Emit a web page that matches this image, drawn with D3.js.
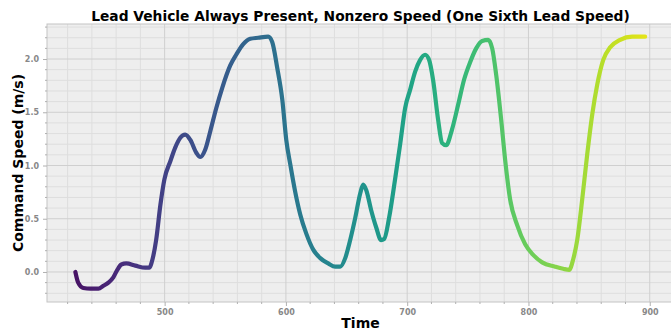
<!DOCTYPE html>
<html>
<head>
<meta charset="utf-8">
<script src="https://cdn.jsdelivr.net/npm/d3@7"></script>
<style>
  body { margin: 0; background: #fff; }
  svg { display: block; font-family: "DejaVu Sans", sans-serif; }
</style>
</head>
<body>
<svg id="chart" width="671" height="330"></svg>
<script>
// time samples and command speed
const time = [426.4, 428.7, 433, 438.8, 445.4, 449.5, 453.6, 457.7, 461, 464.3, 468.4, 475.8, 484, 487.3,
  490, 493, 496.5, 499.8, 504.7, 508.8, 512.9, 517, 521.2, 526.1, 529.4, 533.5, 537.6, 542.6, 547.5,
  554.1, 559, 564.8, 570.6, 577.2, 585.4, 588.7, 592.8, 597, 600.3, 603.6, 607.7, 611.8, 616.8, 622.5,
  628.3, 634.9, 640.7, 644.8, 648.9, 653, 657.2, 661.3, 663.7, 666.2, 670.3, 674.4, 678.5, 681, 685.1,
  690, 694.2, 698.3, 702.4, 706.5, 710.6, 714.8, 718.1, 721.4, 725.5, 728.8, 732.1, 737, 742, 747,
  751.9, 756.9, 761.8, 766.8, 770.1, 773.4, 777.5, 780.8, 784.9, 790.7, 797.3, 803.9, 811.3, 822,
  828.6, 833.6, 836.9, 840.2, 844.3, 848.4, 852.6, 856.7, 861.6, 867.4, 875.6, 885.5, 896.2];
const speed = [0.0, -0.10, -0.15, -0.157, -0.157, -0.13, -0.10, -0.05, 0.02, 0.07, 0.08, 0.06, 0.04, 0.04,
  0.12, 0.30, 0.63, 0.87, 1.04, 1.17, 1.26, 1.29, 1.24, 1.12, 1.08, 1.15, 1.32, 1.54, 1.73,
  1.94, 2.04, 2.14, 2.19, 2.20, 2.21, 2.16, 1.92, 1.62, 1.24, 1.01, 0.75, 0.54, 0.36, 0.21,
  0.13, 0.08, 0.05, 0.05, 0.13, 0.30, 0.51, 0.74, 0.82, 0.77, 0.58, 0.42, 0.30, 0.31, 0.51,
  0.87, 1.20, 1.54, 1.71, 1.88, 1.99, 2.04, 1.99, 1.80, 1.43, 1.21, 1.19, 1.34, 1.57, 1.81,
  1.97, 2.10, 2.17, 2.18, 2.10, 1.85, 1.43, 1.05, 0.68, 0.44, 0.26, 0.16, 0.09, 0.05,
  0.03, 0.02, 0.12, 0.30, 0.68, 1.10, 1.48, 1.76, 1.99, 2.11, 2.18, 2.21, 2.21];

const xTicks = [500, 600, 700, 800, 900];
const yTicks = [0.0, 0.5, 1.0, 1.5, 2.0];

const title  = 'Lead Vehicle Always Present, Nonzero Speed (One Sixth Lead Speed)';
const xTitle = 'Time';
const yTitle = 'Command Speed (m/s)';

const margin = { l: 47, t: 24, r: -3, b: 28 };
const width  = 671;
const height = 330;

const svg = d3.select('#chart');

const xScale = d3.scaleLinear().domain([403, 920]).range([margin.l, width - margin.r]);
const yScale = d3.scaleLinear().domain([-0.282, 2.329]).range([height - margin.b, margin.t]);

const l = xScale.range()[0], r = xScale.range()[1];
const t = yScale.range()[1], b = yScale.range()[0];

// panel
svg.append('rect')
    .attr('x', l).attr('y', t)
    .attr('width', r - l).attr('height', b - t)
    .attr('fill', '#eeeeee');

// grid: minor then major
const grid = svg.append('g');
const xMinor = d3.range(420, 920, 20).filter(v => v % 100 !== 0);
const yMinor = d3.range(-2, 24).map(v => v / 10).filter(v => Math.abs(v * 2 - Math.round(v * 2)) > 1e-6);

grid.selectAll('.xm').data(xMinor).join('line')
    .attr('x1', d => xScale(d)).attr('x2', d => xScale(d))
    .attr('y1', t).attr('y2', b)
    .attr('stroke', '#dedede').attr('stroke-width', 1);
grid.selectAll('.ym').data(yMinor).join('line')
    .attr('class', 'ym')
    .attr('x1', l).attr('x2', r)
    .attr('y1', d => yScale(d)).attr('y2', d => yScale(d))
    .attr('stroke', '#dedede').attr('stroke-width', 1);
grid.selectAll('.xM').data(xTicks).join('line')
    .attr('class', 'xM')
    .attr('x1', d => xScale(d)).attr('x2', d => xScale(d))
    .attr('y1', t).attr('y2', b)
    .attr('stroke', '#cfcfcf').attr('stroke-width', 1);
grid.selectAll('.yM').data(yTicks).join('line')
    .attr('class', 'yM')
    .attr('x1', l).attr('x2', r)
    .attr('y1', d => yScale(d)).attr('y2', d => yScale(d))
    .attr('stroke', '#cfcfcf').attr('stroke-width', 1);

// frame
svg.append('rect')
    .attr('x', l).attr('y', t)
    .attr('width', r - l).attr('height', b - t)
    .attr('fill', 'none').attr('stroke', '#c4c4c4');

// axes
const xAxis = d3.axisBottom(xScale).tickValues(xTicks).tickFormat(d3.format('d')).tickSize(4).tickPadding(3);
const yAxis = d3.axisLeft(yScale).tickValues(yTicks).tickFormat(d3.format('.1f')).tickSize(4).tickPadding(4);

const gx = svg.append('g').attr('transform', `translate(0,${b})`).call(xAxis);
const gy = svg.append('g').attr('transform', `translate(${l},0)`).call(yAxis);

[gx, gy].forEach(g => {
    g.select('.domain').remove();
    g.selectAll('.tick line').attr('stroke', '#b0b0b0');
    g.selectAll('.tick text')
        .attr('fill', '#888888')
        .attr('font-size', 8)
        .attr('font-weight', 'bold')
        .attr('font-family', 'DejaVu Sans');
});

// minor tick marks
svg.append('g').selectAll('line').data(xMinor).join('line')
    .attr('x1', d => xScale(d)).attr('x2', d => xScale(d))
    .attr('y1', b).attr('y2', b + 2)
    .attr('stroke', '#b0b0b0');
svg.append('g').selectAll('line').data(yMinor).join('line')
    .attr('x1', l - 2).attr('x2', l)
    .attr('y1', d => yScale(d)).attr('y2', d => yScale(d))
    .attr('stroke', '#b0b0b0');

// viridis gradient along time
const grad = svg.append('defs').append('linearGradient')
    .attr('id', 'vir')
    .attr('gradientUnits', 'userSpaceOnUse')
    .attr('x1', xScale(400)).attr('x2', xScale(918))
    .attr('y1', 0).attr('y2', 0);
grad.selectAll('stop').data(d3.range(0, 1.0001, 0.05)).join('stop')
    .attr('offset', d => d)
    .attr('stop-color', d => d3.interpolateViridis(d));

const data = time.map((d, i) => [d, speed[i]]);
const line = d3.line()
    .x(d => xScale(d[0]))
    .y(d => yScale(d[1]))
    .curve(d3.curveMonotoneX);

svg.append('path')
    .attr('d', line(data))
    .attr('fill', 'none')
    .attr('stroke', 'url(#vir)')
    .attr('stroke-width', 4.2)
    .attr('stroke-linecap', 'round')
    .attr('stroke-linejoin', 'round');

// texts
svg.append('text')
    .attr('x', (l + r) / 2).attr('y', 21)
    .attr('text-anchor', 'middle')
    .attr('font-size', 13.8).attr('font-weight', 'bold')
    .text(title);

svg.append('text')
    .attr('x', (l + r) / 2).attr('y', 328)
    .attr('text-anchor', 'middle')
    .attr('font-size', 14).attr('font-weight', 'bold')
    .text(xTitle);

svg.append('text')
    .attr('transform', `translate(23,${(t + b) / 2}) rotate(-90)`)
    .attr('text-anchor', 'middle')
    .attr('font-size', 14).attr('font-weight', 'bold')
    .text(yTitle);
</script>
</body>
</html>
